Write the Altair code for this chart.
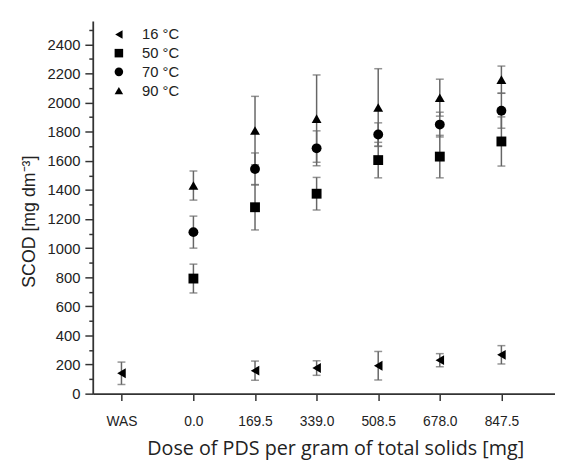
import altair as alt
import pandas as pd

series = ["16 °C", "50 °C", "70 °C", "90 °C"]
shapes = ["triangle-left", "square", "circle", "triangle-up"]
x_ticks = [-198, 0, 169.5, 339, 508.5, 678, 847.5]

x16 = [-198, 169.5, 339, 508.5, 678, 847.5]
m16 = [140, 158, 176, 192, 230, 267]
s16 = [77, 66, 50, 98, 45, 63]

x_dose = [0, 169.5, 339, 508.5, 678, 847.5]
m50 = [791, 1281, 1374, 1605, 1629, 1733]
s50 = [99, 156, 112, 122, 146, 169]
m70 = [1110, 1544, 1686, 1781, 1849, 1944]
s70 = [110, 110, 120, 80, 85, 120]
m90 = [1430, 1808, 1890, 1966, 2034, 2158]
s90 = [100, 235, 300, 267, 127, 93]

rows = []
for name, xs, ms, ss in [
    (series[0], x16, m16, s16),
    (series[1], x_dose, m50, s50),
    (series[2], x_dose, m70, s70),
    (series[3], x_dose, m90, s90),
]:
    for x, m, s in zip(xs, ms, ss):
        rows.append({"series": name, "dose": x, "scod": m, "lo": m - s, "hi": m + s})
df = pd.DataFrame(rows)

xscale = alt.Scale(domain=[-277, 995], nice=False, zero=False)
yscale = alt.Scale(domain=[0, 2560], nice=False)

x_axis = alt.Axis(
    values=x_ticks,
    labelExpr="datum.value < -100 ? 'WAS' : format(datum.value, '.1f')",
    title="Dose of PDS per gram of total solids [mg]",
    titleFont="Open Sans", titleFontSize=20, titleFontWeight="normal",
    titleColor="#222", titleX=246, titleY=56, titleBaseline="middle",
    labelFont="Liberation Sans", labelFontSize=14, labelColor="#222",
    labelPadding=14, tickSize=7, tickWidth=1.5, tickColor="#333",
    domainColor="#333", domainWidth=1.8, grid=False, labelOverlap=False,
)
y_axis = alt.Axis(
    values=list(range(0, 2600, 100)),
    labelExpr="datum.value % 200 === 0 ? datum.label : ''",
    format="d",
    title="SCOD [mg dm⁻³]",
    titleFont="Liberation Sans", titleFontSize=18, titleFontWeight="normal",
    titleColor="#222", titleX=-64, titleY=203, titleBaseline="middle",
    titleAlign="center",
    labelFont="Liberation Sans", labelFontSize=15, labelColor="#222",
    labelPadding=5, tickSize={"condition": {"test": "datum.value % 200 === 0", "value": 8}, "value": 4},
    tickWidth=1.5, tickColor="#333",
    domainColor="#333", domainWidth=1.8, grid=False, labelOverlap=False,
)

base = alt.Chart(df)
x_enc = alt.X("dose:Q", scale=xscale, axis=x_axis)

bars = base.mark_rule(color="#666", strokeWidth=1.5).encode(
    x=x_enc, y=alt.Y("lo:Q", scale=yscale, axis=y_axis), y2="hi:Q"
)
cap_lo = base.mark_tick(color="#666", orient="horizontal", size=8, thickness=1.5).encode(
    x=x_enc, y=alt.Y("lo:Q", scale=yscale, axis=y_axis)
)
cap_hi = base.mark_tick(color="#666", orient="horizontal", size=8, thickness=1.5).encode(
    x=x_enc, y=alt.Y("hi:Q", scale=yscale, axis=y_axis)
)
points = base.mark_point(filled=True, color="black", size=100, opacity=1).encode(
    x=x_enc,
    y=alt.Y("scod:Q", scale=yscale, axis=y_axis),
    shape=alt.Shape(
        "series:N",
        scale=alt.Scale(domain=series, range=shapes),
        legend=alt.Legend(
            title=None, orient="none", legendX=19, legendY=6, padding=0,
            labelFont="Liberation Sans", labelFontSize=15, labelColor="#222",
            symbolSize=75, symbolFillColor="black", symbolStrokeColor="black",
            labelOffset=16, rowPadding=3,
        ),
    ),
)

chart = (
    alt.layer(bars, cap_lo, cap_hi, points)
    .properties(
        width=469, height=378, autosize=alt.AutoSizeParams(type="none"),
        padding={"left": 86, "top": 10, "right": 0, "bottom": 64},
        background="white",
    )
    .configure_view(stroke=None)
    .configure_axis(labelOverlap=False)
)

chart.save("out.html", embed_options={"renderer": "svg", "actions": False})
